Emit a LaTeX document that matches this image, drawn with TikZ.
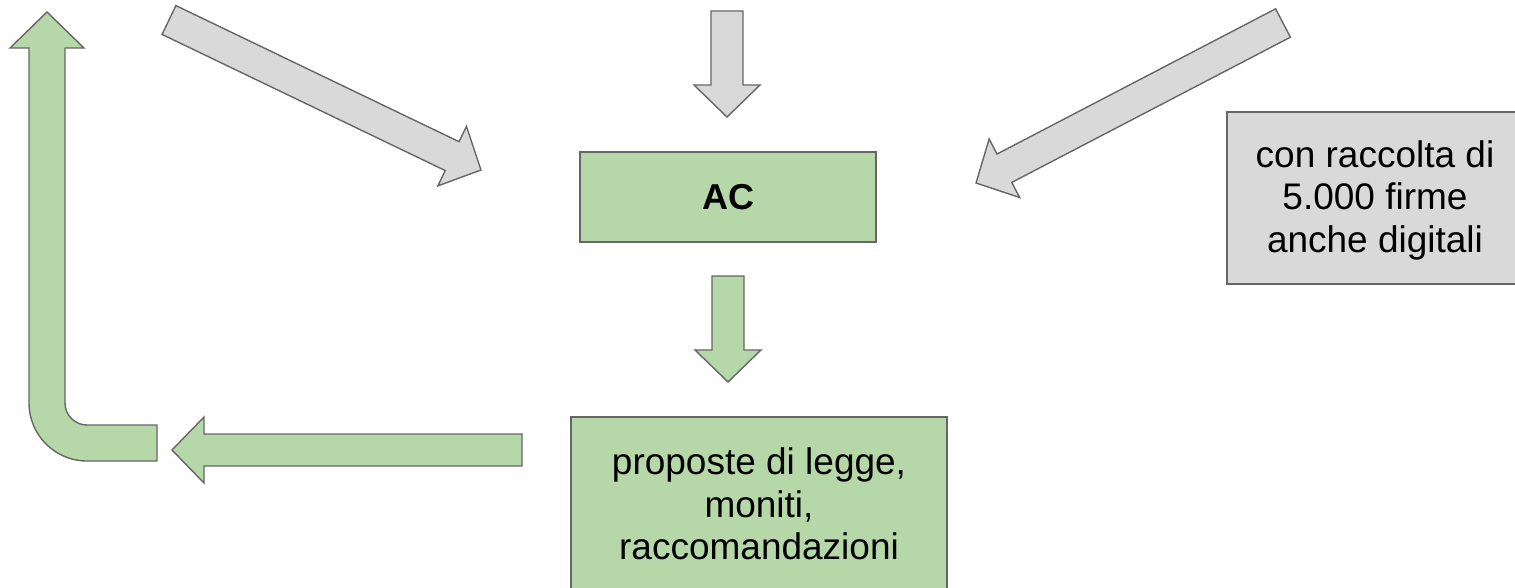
\documentclass[tikz,border=0pt]{standalone}
\usepackage{fontspec}
\setmainfont{Liberation Sans}
\usetikzlibrary{calc}
\definecolor{grn}{HTML}{B6D7A8}
\definecolor{gry}{HTML}{D9D9D9}
\definecolor{edgec}{HTML}{666666}
% block arrow: #1 style, #2 start coordinate, #3 tip coordinate
\newcommand\myblockarrow[3]{%
  \coordinate (hb) at ($(#3)!32pt!(#2)$);
  \draw[#1] ($(#2)!16pt!90:(#3)$) -- ($(hb)!16pt!90:(#3)$) -- ($(hb)!33pt!90:(#3)$)
    -- (#3) -- ($(hb)!33pt!-90:(#3)$) -- ($(hb)!16pt!-90:(#3)$)
    -- ($(#2)!16pt!-90:(#3)$) -- cycle;}
\tikzset{
  shapeline/.style={draw=edgec, line width=1.4pt, line join=miter},
  greyarrow/.style={shapeline, fill=gry},
  greenarrow/.style={shapeline, fill=grn},
  boxbase/.style={rectangle, shapeline, inner sep=0pt, align=center,
    font=\fontsize{37pt}{42.5pt}\selectfont},
  greenbox/.style={boxbase, fill=grn},
  greybox/.style={boxbase, fill=gry},
}
\begin{document}
\begin{tikzpicture}[x=1pt, y=-1pt]
\useasboundingbox (0,0) rectangle (1515,587);

% boxes
\node[greenbox, minimum width=296pt, minimum height=90pt,
  font=\fontsize{36pt}{40pt}\selectfont\bfseries] (ac) at (728,197) {AC};
\node[greybox, minimum width=296pt, minimum height=172pt] (firme) at (1375,198)
  {\raisebox{-3pt}[\height][\depth]{\begin{tabular}{@{}c@{}}con raccolta di\\5.000 firme\\anche digitali\end{tabular}}};
\node[greenbox, minimum width=376pt, minimum height=174pt] (proposte) at (759,504)
  {proposte di legge,\\moniti,\\raccomandazioni};

% arrow end points
\coordinate (g1s) at (169,20);  \coordinate (g1t) at (481,170);
\coordinate (g2s) at (727,11);  \coordinate (g2t) at (727,117);
\coordinate (g3s) at (1283,23); \coordinate (g3t) at (976,183);
\coordinate (v1s) at (728,276); \coordinate (v1t) at (728,382);
\coordinate (v2s) at (522,450); \coordinate (v2t) at (172,450);

\myblockarrow{greyarrow}{g1s}{g1t}
\myblockarrow{greyarrow}{g2s}{g2t}
\myblockarrow{greyarrow}{g3s}{g3t}
\myblockarrow{greenarrow}{v1s}{v1t}
\myblockarrow{greenarrow}{v2s}{v2t}

% bent arrow (up-turn)
\draw[greenarrow] (157,425) -- (87,425)
  .. controls (74.85,425) and (65,415.15) .. (65,403)
  -- (65,48) -- (84,48) -- (47,12) -- (10,48) -- (29,48) -- (29,403)
  .. controls (29,435.03) and (54.97,461) .. (87,461)
  -- (157,461) -- cycle;
\end{tikzpicture}
\end{document}
